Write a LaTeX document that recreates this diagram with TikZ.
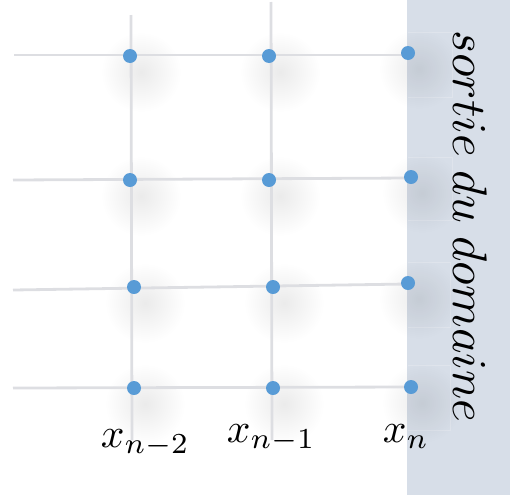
\documentclass[tikz,border=0pt]{standalone}
\usetikzlibrary{fadings}
\definecolor{gridgray}{RGB}{221,222,226}
\definecolor{dotblue}{RGB}{88,155,214}
\definecolor{zonebg}{RGB}{215,222,232}
\definecolor{zoneedge}{RGB}{223,228,236}
\tikzfading[name=softshadow, inner color=transparent!92, outer color=transparent!100]
\tikzset{
  gridline/.style={gridgray, line width=2.8pt},
  gdot/.style={circle, fill=dotblue, inner sep=0pt, minimum size=14pt},
  lab/.style={inner sep=0pt, scale=4.15, anchor=base west},
  artefact/.style={zoneedge, line width=0.8pt},
}
\begin{document}
\begin{tikzpicture}[x=1pt,y=-1pt]
\useasboundingbox (0,0) rectangle (510,498);
\fill[zonebg] (407,0) rectangle (510,495);
% faint box edges inside the zone
\draw[artefact] (408,32) -- (452,32) -- (452,97) -- (408,97);
\draw[artefact] (408,157) -- (452,157) -- (452,220) -- (408,220);
\draw[artefact] (408,262) -- (450,262) -- (450,327) -- (408,327);
\draw[artefact] (408,365) -- (450,365) -- (450,430) -- (408,430);
% shadows
\foreach \p in {(141,72),(280,72),(419,69),(141,196),(280,196),(422,193),(145,303),(284,303),(419,299),(145,404),(284,404),(422,403)}
  \fill[black, path fading=softshadow] \p circle (40pt);
% grid
\coordinate (h1a) at (14,55); \coordinate (h1b) at (407,55);
\coordinate (h2a) at (13,180); \coordinate (h2b) at (410,178);
\coordinate (h3a) at (13,290); \coordinate (h3b) at (407,284);
\coordinate (h4a) at (13,388); \coordinate (h4b) at (411,387);
\coordinate (v1a) at (131,15); \coordinate (v1b) at (132,440);
\coordinate (v2a) at (271,2); \coordinate (v2b) at (272,440);
\draw[gridline] (h1a) -- (h1b);
\draw[gridline] (h2a) -- (h2b);
\draw[gridline] (h3a) -- (h3b);
\draw[gridline] (h4a) -- (h4b);
\draw[gridline] (v1a) -- (v1b);
\draw[gridline] (v2a) -- (v2b);
% dots
\node[gdot] (a1) at (130,56) {};
\node[gdot] (b1) at (269,56) {};
\node[gdot] (c1) at (408,53) {};
\node[gdot] (a2) at (130,180) {};
\node[gdot] (b2) at (269,180) {};
\node[gdot] (c2) at (411,177) {};
\node[gdot] (a3) at (134,287) {};
\node[gdot] (b3) at (273,287) {};
\node[gdot] (c3) at (408,283) {};
\node[gdot] (a4) at (134,388) {};
\node[gdot] (b4) at (273,388) {};
\node[gdot] (c4) at (411,387) {};
% labels
\node[lab] (l1) at (100,447) {$x_{n-2}$};
\node[lab] (l2) at (226,442) {$x_{n-1}$};
\node[lab] (l3) at (382,442) {$x_n$};
\node[inner sep=0pt, rotate=-90, scale=4.85, anchor=base] (zone) at (453,226.5) {$sortie\;du\;domaine$};
\end{tikzpicture}
\end{document}
